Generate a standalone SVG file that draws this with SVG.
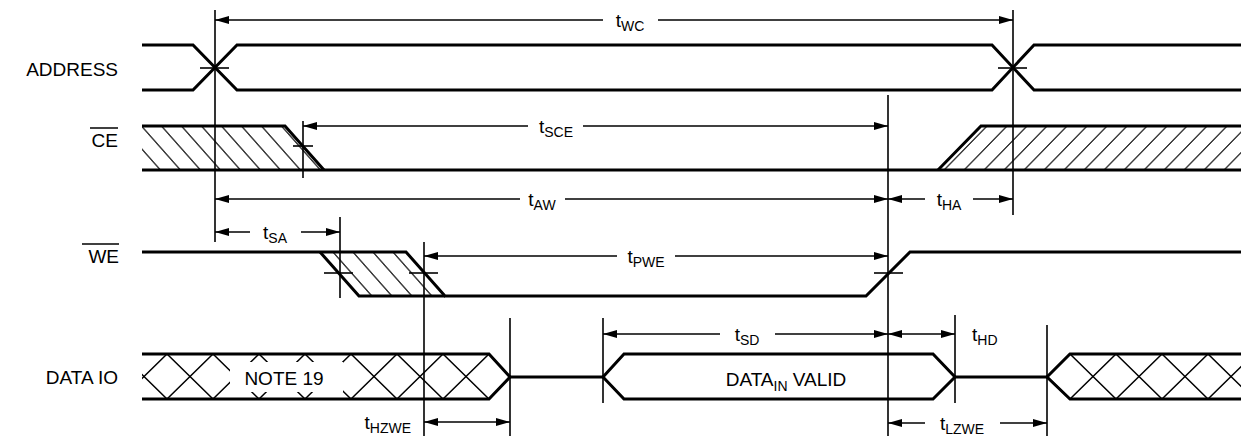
<svg xmlns="http://www.w3.org/2000/svg" width="1241" height="439" viewBox="0 0 1241 439">
<style>
.sig{fill:none;stroke:#000;stroke-width:3;stroke-linejoin:miter}
.dim{fill:none;stroke:#000;stroke-width:1.6}
.arr{fill:none;stroke:#000;stroke-width:1.6}
.lbl{font-family:"Liberation Sans",Arial,sans-serif;font-size:19px;fill:#000}
.t{font-family:"Liberation Sans",Arial,sans-serif;font-size:19px;fill:#000}
.sub{font-size:14px}
</style>
<defs>
<marker id="ah" viewBox="0 0 14 8" refX="14" refY="4" markerWidth="14" markerHeight="8" markerUnits="userSpaceOnUse" orient="auto-start-reverse">
<path d="M0,0 L14,4 L0,8 Z" fill="#000"/>
</marker>
<pattern id="hatchBack" patternUnits="userSpaceOnUse" width="20" height="44" patternTransform="skewX(41.5)">
<line x1="10" y1="-2" x2="10" y2="46" stroke="#000" stroke-width="1.5"/>
</pattern>
<pattern id="hatchFwd" patternUnits="userSpaceOnUse" width="20" height="44" patternTransform="skewX(-44.3)">
<line x1="10" y1="-2" x2="10" y2="46" stroke="#000" stroke-width="1.5"/>
</pattern>
<pattern id="xL" patternUnits="userSpaceOnUse" x="121" y="354" width="46" height="45">
<path d="M0,0 L46,45 M46,0 L0,45" stroke="#000" stroke-width="1.5" fill="none"/>
</pattern>
<pattern id="xR" patternUnits="userSpaceOnUse" x="1070" y="354" width="46" height="45">
<path d="M0,0 L46,45 M46,0 L0,45" stroke="#000" stroke-width="1.5" fill="none"/>
</pattern>
</defs>
<rect width="1241" height="439" fill="#fff"/>

<g id="labels">
<text class="lbl" x="118" y="76" text-anchor="end">ADDRESS</text>
<text class="lbl" x="118" y="147" text-anchor="end">CE</text>
<line x1="90" y1="128" x2="118" y2="128" stroke="#000" stroke-width="1.5"/>
<text class="lbl" x="119" y="263" text-anchor="end">WE</text>
<line x1="82" y1="244" x2="119" y2="244" stroke="#000" stroke-width="1.5"/>
<text class="lbl" x="118" y="384" text-anchor="end">DATA IO</text>
</g>

<g id="address">
<path class="sig" d="M142,45 H193 L237,90 H992 L1034,45 H1241"/>
<path class="sig" d="M142,90 H193 L237,45 H992 L1034,90 H1241"/>
</g>

<g id="ce">
<polygon points="142,126 285,126 324,170 142,170" fill="url(#hatchBack)"/>
<polygon points="938,170 981,126 1241,126 1241,170" fill="url(#hatchFwd)"/>
<path class="sig" d="M142,126 H285 L324,170"/>
<path class="sig" d="M142,170 H1241"/>
<path class="sig" d="M938,170 L981,126 H1241"/>
</g>

<g id="we">
<polygon points="320,252 406,252 445,296 359,296" fill="url(#hatchBack)"/>
<path class="sig" d="M142,252 H406 L445,296 H866 L910,252 H1241"/>
<path class="sig" d="M320,252 L359,296 H445"/>
</g>

<g id="dataio">
<polygon points="142,354 489,354 510,377 489,399 142,399" fill="url(#xL)"/>
<polygon points="1241,354 1070,354 1047,377 1070,399 1241,399" fill="url(#xR)"/>
<rect x="230" y="362" width="113" height="30" fill="#fff"/>
<text class="lbl" x="284" y="385" text-anchor="middle">NOTE 19</text>
<path class="sig" d="M142,354 H489 L510,377 L489,399 H142"/>
<path class="sig" d="M510,377 H603"/>
<path class="sig" d="M603,377 L624,354 H933 L955,377 L933,399 H624 Z"/>
<path class="sig" d="M955,377 H1047"/>
<path class="sig" d="M1241,354 H1070 L1047,377 L1070,399 H1241"/>
<text class="lbl" x="786" y="386" text-anchor="middle">DATA<tspan class="sub" dy="5">IN</tspan><tspan dy="-5"> VALID</tspan></text>
</g>

<g id="connectors">
<!-- verticals -->
<line class="dim" x1="215" y1="10" x2="215" y2="242"/>
<line class="dim" x1="1013" y1="10" x2="1013" y2="215"/>
<line class="dim" x1="303" y1="121" x2="303" y2="178"/>
<line class="dim" x1="888" y1="95" x2="888" y2="436"/>
<line class="dim" x1="340" y1="217" x2="340" y2="298"/>
<line class="dim" x1="424" y1="242" x2="424" y2="436"/>
<line class="dim" x1="510" y1="318" x2="510" y2="436" stroke-width="2.2"/>
<line class="dim" x1="603" y1="318" x2="603" y2="403"/>
<line class="dim" x1="955" y1="315" x2="955" y2="403"/>
<line class="dim" x1="1047" y1="325" x2="1047" y2="436"/>
<!-- ticks -->
<line class="dim" x1="200" y1="68" x2="229" y2="68"/>
<line class="dim" x1="998" y1="68" x2="1027" y2="68"/>
<line class="dim" x1="293" y1="146" x2="313" y2="146" stroke-width="2.5"/>
<line class="dim" x1="324" y1="273" x2="353" y2="273"/>
<line class="dim" x1="409" y1="273" x2="438" y2="273"/>
<line class="dim" x1="874" y1="273" x2="903" y2="273"/>
<!-- tWC -->
<line class="arr" x1="215" y1="20" x2="603" y2="20" marker-start="url(#ah)"/>
<line class="arr" x1="658" y1="20" x2="1013" y2="20" marker-end="url(#ah)"/>
<text class="t" x="630" y="27" text-anchor="middle">t<tspan class="sub" dy="4">WC</tspan></text>
<!-- tSCE -->
<line class="arr" x1="303" y1="126" x2="528" y2="126" marker-start="url(#ah)"/>
<line class="arr" x1="583" y1="126" x2="888" y2="126" marker-end="url(#ah)"/>
<text class="t" x="556" y="133" text-anchor="middle">t<tspan class="sub" dy="4">SCE</tspan></text>
<!-- tAW -->
<line class="arr" x1="215" y1="199" x2="520" y2="199" marker-start="url(#ah)"/>
<line class="arr" x1="565" y1="199" x2="888" y2="199" marker-end="url(#ah)"/>
<text class="t" x="542" y="206" text-anchor="middle">t<tspan class="sub" dy="4">AW</tspan></text>
<!-- tHA -->
<line class="arr" x1="888" y1="199" x2="925" y2="199" marker-start="url(#ah)"/>
<line class="arr" x1="973" y1="199" x2="1013" y2="199" marker-end="url(#ah)"/>
<text class="t" x="949" y="206" text-anchor="middle">t<tspan class="sub" dy="4">HA</tspan></text>
<!-- tSA -->
<line class="arr" x1="215" y1="232" x2="250" y2="232" marker-start="url(#ah)"/>
<line class="arr" x1="301" y1="232" x2="340" y2="232" marker-end="url(#ah)"/>
<text class="t" x="275" y="239" text-anchor="middle">t<tspan class="sub" dy="4">SA</tspan></text>
<!-- tPWE -->
<line class="arr" x1="424" y1="256" x2="617" y2="256" marker-start="url(#ah)"/>
<line class="arr" x1="675" y1="256" x2="888" y2="256" marker-end="url(#ah)"/>
<text class="t" x="646" y="263" text-anchor="middle">t<tspan class="sub" dy="4">PWE</tspan></text>
<!-- tSD -->
<line class="arr" x1="603" y1="334" x2="720" y2="334" marker-start="url(#ah)"/>
<line class="arr" x1="775" y1="334" x2="888" y2="334" marker-end="url(#ah)"/>
<text class="t" x="747" y="341" text-anchor="middle">t<tspan class="sub" dy="4">SD</tspan></text>
<!-- tHD -->
<line class="arr" x1="888" y1="334" x2="955" y2="334" marker-start="url(#ah)" marker-end="url(#ah)"/>
<text class="t" x="972" y="341">t<tspan class="sub" dy="4">HD</tspan></text>
<!-- tHZWE -->
<line class="arr" x1="424" y1="422" x2="510" y2="422" marker-start="url(#ah)" marker-end="url(#ah)"/>
<text class="t" x="411" y="429" text-anchor="end">t<tspan class="sub" dy="4">HZWE</tspan></text>
<!-- tLZWE -->
<line class="arr" x1="888" y1="423" x2="925" y2="423" marker-start="url(#ah)"/>
<line class="arr" x1="1000" y1="423" x2="1047" y2="423" marker-end="url(#ah)"/>
<text class="t" x="962" y="430" text-anchor="middle">t<tspan class="sub" dy="4">LZWE</tspan></text>
</g>
</svg>
